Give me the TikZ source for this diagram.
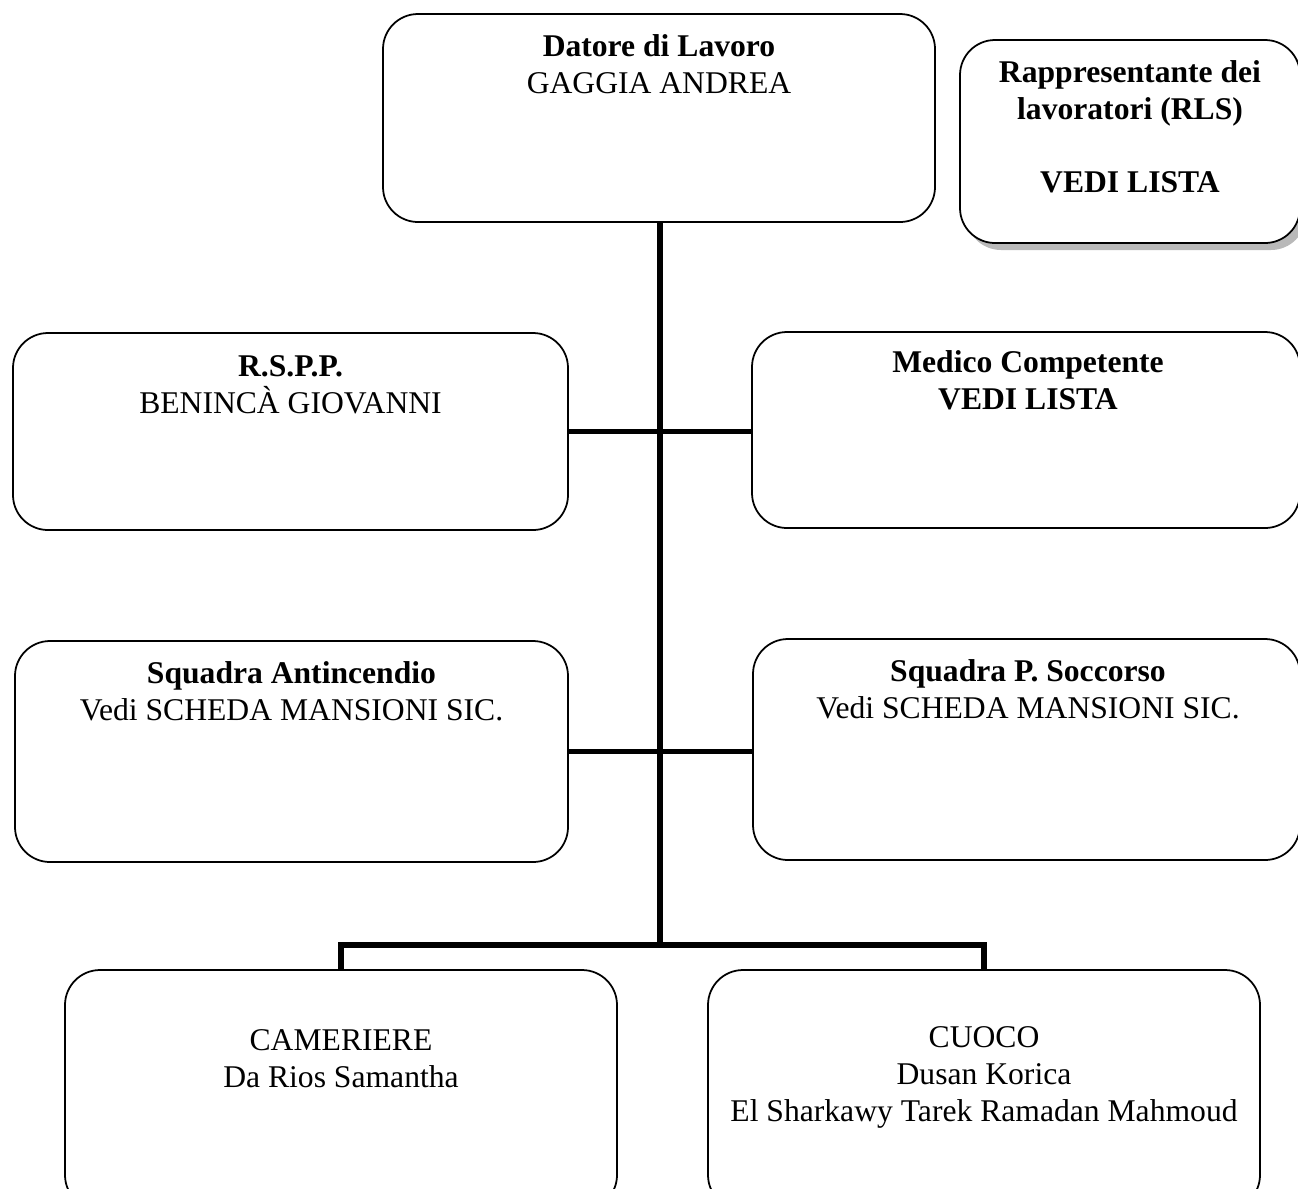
\documentclass[tikz,border=0pt]{standalone}
\usepackage{fontspec}
\setmainfont{Liberation Serif}
\begin{document}
\begin{tikzpicture}[x=0.02cm,y=-0.02cm,
  orgbox/.style={draw=black, line width=1pt, rounded corners=0.7cm, fill=white, inner sep=0pt},
  boxtext/.style={anchor=north, align=center, inner sep=0pt, font=\fontsize{18}{21}\selectfont},
  link/.style={line width=3pt}]
\useasboundingbox (0,0) rectangle (1298,1188);
\clip (0,0) rectangle (1298,1188);
% boxes
\node[orgbox, minimum width=552*0.02cm, minimum height=208*0.02cm] (dat) at (659,118) {};
\fill[gray!55, rounded corners=0.7cm] (966,47) rectangle (1306,250);
\node[orgbox, minimum width=340*0.02cm, minimum height=203*0.02cm] (rls) at (1130,141.5) {};
\node[orgbox, minimum width=555*0.02cm, minimum height=197*0.02cm] (rspp) at (290.5,431.5) {};
\node[orgbox, minimum width=548*0.02cm, minimum height=196*0.02cm] (med) at (1026,430) {};
\node[orgbox, minimum width=553*0.02cm, minimum height=221*0.02cm] (sqa) at (291.5,751.5) {};
\node[orgbox, minimum width=547*0.02cm, minimum height=221*0.02cm] (sqs) at (1026.5,749.5) {};
\node[orgbox, minimum width=552*0.02cm, minimum height=240*0.02cm] (cam) at (341,1090) {};
\node[orgbox, minimum width=552*0.02cm, minimum height=240*0.02cm] (cuo) at (984,1090) {};
% texts
\node[boxtext] (tdat) at (659,34) {\textbf{Datore di Lavoro}\\GAGGIA ANDREA};
\node[boxtext] (trls) at (1130,60) {\textbf{Rappresentante dei}\\\textbf{lavoratori (RLS)}\\[21pt]\textbf{VEDI LISTA}};
\node[boxtext] (trspp) at (290.5,355) {\textbf{R.S.P.P.}\\BENINCÀ GIOVANNI};
\node[boxtext] (tmed) at (1028,350) {\textbf{Medico Competente}\\\textbf{VEDI LISTA}};
\node[boxtext] (tsqa) at (291.5,661) {\textbf{Squadra Antincendio}\\Vedi SCHEDA MANSIONI SIC.};
\node[boxtext] (tsqs) at (1028,659) {\textbf{Squadra P. Soccorso}\\Vedi SCHEDA MANSIONI SIC.};
\node[boxtext] (tcam) at (341,1029) {CAMERIERE\\Da Rios Samantha};
\node[boxtext] (tcuo) at (984,1026) {CUOCO\\Dusan Korica\\El Sharkawy Tarek Ramadan Mahmoud};
% connectors
\coordinate (bar) at (660,945);
\draw[link] (dat.south -| bar) -- (bar);
\draw[link] (rspp.east) -- (med.west |- rspp.east);
\draw[link] (sqa.east) -- (sqs.west |- sqa.east);
\draw[link] (cam.north) |- (bar) -| (cuo.north);
\end{tikzpicture}
\end{document}
